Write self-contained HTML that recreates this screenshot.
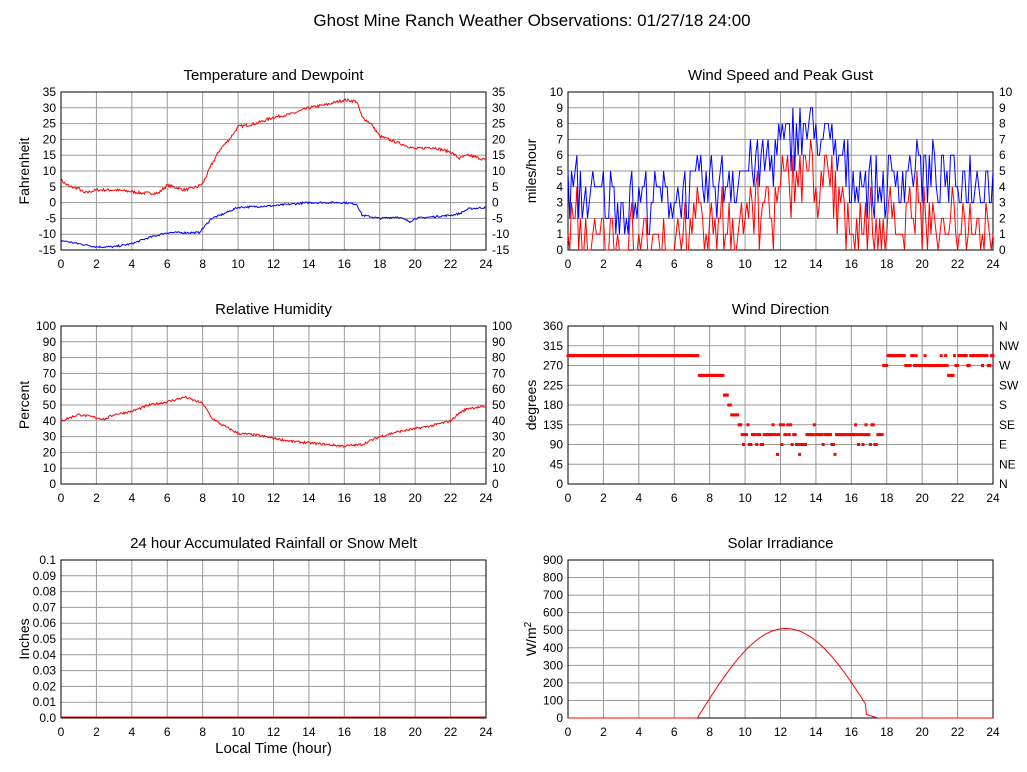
<!DOCTYPE html>
<html><head><meta charset="utf-8"><style>
body{margin:0;background:#fff;}
svg{display:block;font-family:"Liberation Sans",sans-serif;}
</style></head><body>
<svg id="s" width="1027" height="772" xmlns="http://www.w3.org/2000/svg"></svg>
<script>
const S=document.getElementById('s');let h='';
h+='<rect width="1027" height="772" fill="#fff"/>';
h+='<text x="532" y="26" font-size="17" text-anchor="middle">Ghost Mine Ranch Weather Observations: 01/27/18 24:00</text>';
let seed=7;function rnd(){seed=(seed*16807)%2147483647;return seed/2147483647;}
function interp(pts,t){for(let i=0;i<pts.length-1;i++){if(t<=pts[i+1][0]){const a=pts[i],b=pts[i+1];return a[1]+(b[1]-a[1])*(t-a[0])/(b[0]-a[0]);}}return pts[pts.length-1][1];}
const W=425,H=158;
function panel(x0,y0,title,ymin,ymax,step,left,right,ylab){
 let g='';
 g+=`<text x="${x0+W/2}" y="${y0-12}" font-size="15" text-anchor="middle">${title}</text>`;
 const n=Math.round((ymax-ymin)/step);
 for(let i=0;i<=n;i++){const y=y0+H-i*H/n;
  g+=`<line x1="${x0}" x2="${x0+W}" y1="${y}" y2="${y}" stroke="#999" stroke-width="1"/>`;
  if(left){const v=left(i);g+=`<text x="${x0-5}" y="${y+4}" font-size="12" text-anchor="end">${v}</text>`;}
  if(right){const v=right(i);if(v!==null)g+=`<text x="${x0+W+6}" y="${y+4}" font-size="12">${v}</text>`;}
 }
 for(let i=0;i<=12;i++){const x=x0+i*W/12;g+=`<line x1="${x}" x2="${x}" y1="${y0}" y2="${y0+H}" stroke="#999" stroke-width="1"/>`;
  g+=`<text x="${x}" y="${y0+H+18}" font-size="12" text-anchor="middle">${i*2}</text>`;}
 g+=`<rect x="${x0}" y="${y0}" width="${W}" height="${H}" fill="none" stroke="#000" stroke-width="1"/>`;
 g+=`<text transform="translate(${x0-32},${y0+H/2}) rotate(-90)" font-size="14" text-anchor="middle">${ylab}</text>`;
 return g;}
function line(x0,y0,ymin,ymax,fn,color,dt){let p=[];for(let t=0;t<=24.0001;t+=dt){const v=fn(t);p.push((x0+t/24*W).toFixed(1)+','+(y0+H-(v-ymin)/(ymax-ymin)*H).toFixed(1));}
 return `<polyline points="${p.join(' ')}" fill="none" stroke="${color}" stroke-width="1"/>`;}
const L=61,R=568,r1=92,r2=326,r3=560;
h+=panel(L,r1,'Temperature and Dewpoint',-15,35,5,i=>-15+5*i,i=>-15+5*i,'Fahrenheit');
const T=[[0,7],[0.5,5],[1,4.5],[1.3,3],[2,4],[3,4],[4,3.5],[4.5,3],[5.5,3],[6,5.5],[7,4],[7.7,5],[8,6],[8.5,12],[9,17],[9.5,20],[10,24],[11,25],[12,27],[13,28],[14,30],[15,31],[16,32.5],[16.7,32],[17,27],[17.5,25],[18,21],[19,19],[20,17],[21,17.5],[22,16],[22.5,14],[23,15],[24,13.5]];
const D=[[0,-12],[1,-13],[2,-14],[3,-14],[4,-13],[5,-11],[6,-9.5],[7.8,-9.5],[8.5,-5],[9,-4],[10,-1.5],[12,-1],[14,0],[16,0],[16.7,-0.5],[17,-4],[18,-5],[19,-4.5],[19.7,-6],[20,-5],[22,-4],[22.5,-3.5],[23,-2],[24,-1.5]];
h+=line(L,r1,-15,35,t=>interp(T,t)+(rnd()-0.5)*0.9,'#f00',0.05);
h+=line(L,r1,-15,35,t=>interp(D,t)+(rnd()-0.5)*0.6,'#00f',0.05);
h+=panel(R,r1,'Wind Speed and Peak Gust',0,10,1,i=>i,i=>i,'miles/hour');
const G=[[0,4],[3,3],[7,3.5],[9,4.5],[11,5.5],[13,7.5],[14.5,7],[16,4.5],[18,4],[19.5,5.5],[21,4.5],[24,4.5]];
let gs=[],ss=[];for(let t=0;t<=24.0001;t+=0.1){let g=Math.round(interp(G,t)+(rnd()-0.5)*4);g=Math.max(0,Math.min(10,g));let sp=Math.max(0,g-2-Math.floor(rnd()*2.5));gs.push(g);ss.push(sp);}
function arr(a){let p=[];a.forEach((v,i)=>p.push((R+i*0.1/24*W).toFixed(1)+','+(r1+H-v/10*H).toFixed(1)));return p.join(' ');}
h+=`<polyline points="${arr(ss)}" fill="none" stroke="#f00"/>`;
h+=`<polyline points="${arr(gs)}" fill="none" stroke="#00f"/>`;
h+=panel(L,r2,'Relative Humidity',0,100,10,i=>i*10,i=>i*10,'Percent');
const RH=[[0,40],[1,44],[2,42],[2.5,41],[3,44],[4,46],[5,50],[6,52],[7,55],[8,51],[8.5,42],[9,38],[10,32],[11,31],[12,29],[13,27],[14,26],[15,25],[16,24],[17,25],[18,30],[19,33],[20,35],[21,37],[22,40],[22.5,45],[23,48],[24,49]];
h+=line(L,r2,0,100,t=>interp(RH,t)+(rnd()-0.5)*1.5,'#f00',0.05);
const dl=['N','NE','E','SE','S','SW','W','NW','N'];
h+=panel(R,r2,'Wind Direction',0,360,45,i=>i*45,i=>dl[i],'degrees');
function dir(t){if(t<7.4)return 292.5;if(t<8.8)return 247.5;if(t<9)return 202.5;if(t<9.2)return 180;if(t<9.6)return 157.5;if(t<9.8)return 135;
 if(t<17.8){const r=rnd();return r<0.6?112.5:(r<0.85?90:(r<0.97?135:67.5));}
 if(t<18)return 270;if(t<19)return 292.5;if(t<22){if(Math.abs(t-21.6)<0.15)return 247.5;return rnd()<0.8?270:292.5;}
 if(Math.abs(t-22)<0.05)return 22.5;return rnd()<0.8?292.5:270;}
for(let t=0;t<=24;t+=0.0833){const v=dir(t);const x=R+t/24*W,y=r2+H-v/360*H;h+=`<rect x="${(x-1.5).toFixed(1)}" y="${(y-1.5).toFixed(1)}" width="3" height="3" fill="#f00"/>`;}
h+=panel(L,r3,'24 hour Accumulated Rainfall or Snow Melt',0,0.1,0.01,i=>i==0?'0.0':(i==10?'0.1':(i/100).toFixed(2)),null,'Inches');
h+=`<line x1="${L}" x2="${L+W}" y1="${r3+H-1}" y2="${r3+H-1}" stroke="#f00"/>`;
h+=`<text x="${L+W/2}" y="753" font-size="15" text-anchor="middle">Local Time (hour)</text>`;
h+=panel(R,r3,'Solar Irradiance',0,900,100,i=>i*100,null,'W/m<tspan dy="-5" font-size="10">2</tspan>');
h+=line(R,r3,0,900,t=>{if(t<7.3||t>17.5)return 0;if(t>16.85)return 20*(17.5-t)/0.65;const p=(t-7.3)/(17.3-7.3);return Math.max(0,510*Math.sin(Math.PI*p));},'#f00',0.05);
S.innerHTML=h;
</script>
</body></html>
